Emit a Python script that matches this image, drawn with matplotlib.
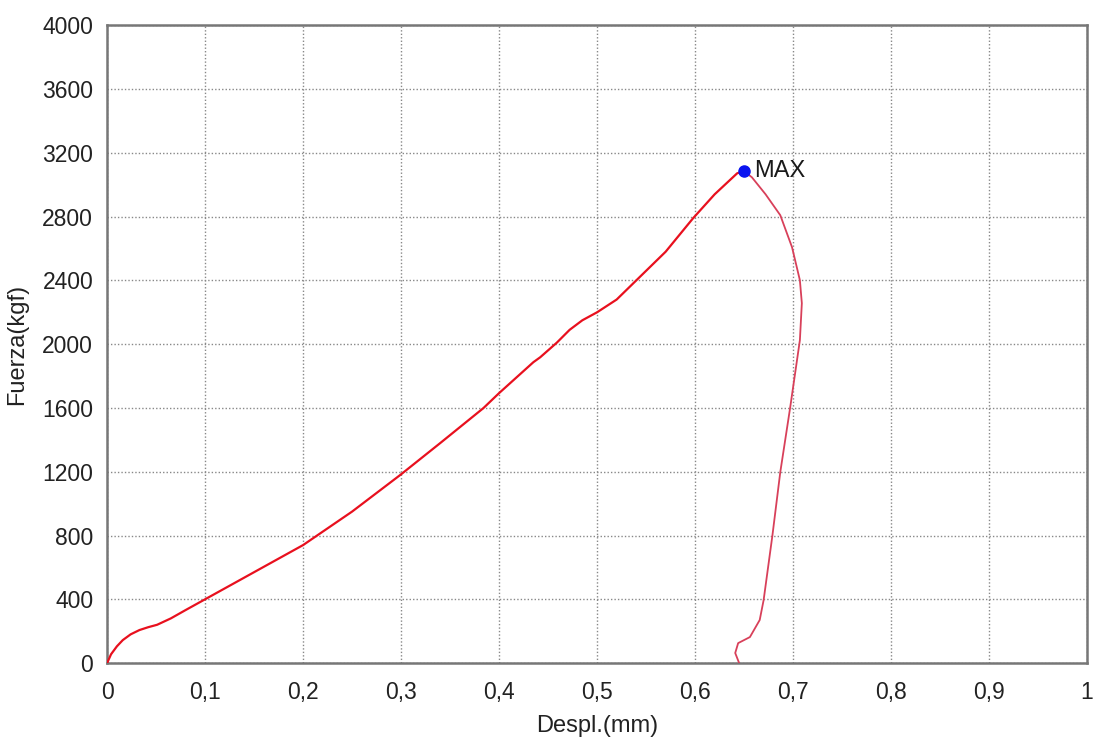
import matplotlib
matplotlib.use("Agg")
import matplotlib.pyplot as plt
from matplotlib.ticker import FuncFormatter

plt.rcParams['font.family'] = ['Liberation Sans', 'DejaVu Sans']

# Loading branch (displacement mm, force kgf)
load_x = [0.000, 0.004, 0.010, 0.016, 0.024, 0.033, 0.042, 0.051, 0.065, 0.080,
          0.100, 0.150, 0.200, 0.250, 0.299, 0.340, 0.384, 0.400, 0.435, 0.442,
          0.459, 0.472, 0.485, 0.500, 0.520, 0.537, 0.570, 0.598, 0.620, 0.643,
          0.650]
load_y = [0, 55, 105, 144, 180, 207, 225, 240, 280, 332,
          400, 570, 740, 950, 1179, 1380, 1599, 1693, 1887, 1918,
          2010, 2090, 2150, 2200, 2280, 2382, 2580, 2790, 2940, 3072,
          3085]

# Unloading branch
unl_x = [0.650, 0.658, 0.672, 0.687, 0.699, 0.707, 0.709, 0.707, 0.697, 0.687,
         0.679, 0.670, 0.666, 0.656, 0.644, 0.641, 0.645]
unl_y = [3085, 3047, 2940, 2809, 2608, 2401, 2257, 2025, 1599, 1198,
         802, 395, 270, 163, 125, 63, 0]

max_x, max_y = 0.650, 3085

fig = plt.figure(figsize=(10.93, 7.45), dpi=100)
ax = fig.add_axes([0.098, 0.110, 0.8965, 0.856])

ax.plot(load_x, load_y, color='#e8101e', lw=1.6, zorder=3)
ax.plot(unl_x, unl_y, color='#d8405a', lw=1.3, zorder=3)
ax.plot([max_x], [max_y], 'o', color='#0a14f0', ms=8, zorder=4)
ax.annotate('MAX', (max_x, max_y), xytext=(7, 0), textcoords='offset points',
            fontsize=17, va='center', ha='left', color='#1a1a1a')

ax.set_xlim(0, 1)
ax.set_ylim(0, 4000)
ax.set_xticks([i / 10 for i in range(11)])
ax.set_yticks(range(0, 4001, 400))
ax.xaxis.set_major_formatter(FuncFormatter(lambda v, p: ('%g' % round(v, 1)).replace('.', ',')))
ax.grid(True, color='#888888', linestyle=(0, (1, 1.5)), lw=1.0)
ax.tick_params(axis='x', length=0, labelsize=16.5, colors='#222222', pad=13)
ax.tick_params(axis='y', length=0, labelsize=16.5, colors='#222222', pad=10)
for s in ax.spines.values():
    s.set_color('#777777')
    s.set_linewidth(1.8)

ax.set_xlabel('Despl.(mm)', fontsize=17, color='#222222', labelpad=8)
ax.set_ylabel('Fuerza(kgf)', fontsize=17, color='#222222', labelpad=10)

fig.savefig('out.png', dpi=100)
